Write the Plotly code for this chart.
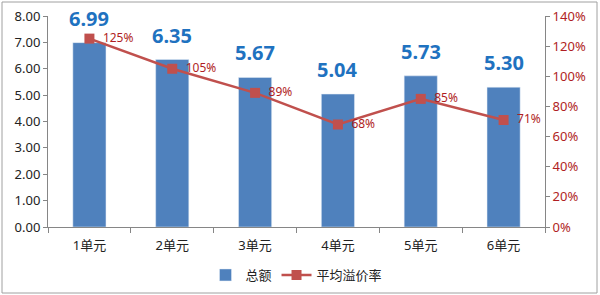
import plotly.graph_objects as go

categories = ["1单元", "2单元", "3单元", "4单元", "5单元", "6单元"]
totals = [6.99, 6.35, 5.67, 5.04, 5.73, 5.30]
premium = [125, 105, 89, 68, 85, 71]
left_ticks = [0, 1, 2, 3, 4, 5, 6, 7, 8]
right_ticks = [0, 20, 40, 60, 80, 100, 120, 140]

FONT = "Noto Sans, Noto Sans CJK SC, sans-serif"
BAR_COLOR = "#4F81BD"
LINE_COLOR = "#C0504D"
RED_TEXT = "#B01E23"
BLUE_TEXT = "#1F72C0"

fig = go.Figure()
fig.add_trace(go.Bar(
    x=categories, y=totals, name="总额", marker_color=BAR_COLOR,
    width=0.4, yaxis="y",
))
fig.add_trace(go.Scatter(
    x=categories, y=premium, name="平均溢价率", yaxis="y2",
    mode="lines+markers+text",
    line=dict(color=LINE_COLOR, width=2.5),
    marker=dict(symbol="square", size=10, color=LINE_COLOR),
    text=[f"  {v}%" for v in premium], textposition="middle right",
    textfont=dict(color=RED_TEXT, size=12, family=FONT),
    cliponaxis=False,
))

for c, v in zip(categories, totals):
    fig.add_annotation(
        x=c, y=v, xref="x", yref="y", text=f"<b>{v:.2f}</b>",
        showarrow=False, yanchor="bottom", yshift=9,
        font=dict(color=BLUE_TEXT, size=20, family=FONT),
    )

fig.update_layout(
    width=600, height=295,
    margin=dict(l=48, r=55, t=16, b=68, autoexpand=False),
    paper_bgcolor="white", plot_bgcolor="white",
    font=dict(family=FONT, size=12, color="#222222"),
    showlegend=True,
    legend=dict(orientation="h", x=0.5, xanchor="center", y=-48 / 211, yanchor="middle",
                font=dict(size=13, family=FONT), tracegroupgap=0),
    xaxis=dict(
        type="category", showline=True, linecolor="#868686", linewidth=1,
        ticks="outside", ticklen=5, tickcolor="#868686", tickson="boundaries",
        tickfont=dict(size=13, family=FONT, color="#222222"),
        ticklabelstandoff=6,
        showgrid=False, automargin=False,
    ),
    yaxis=dict(
        range=[0, 8], tickvals=left_ticks, tickformat=".2f",
        showline=True, linecolor="#868686", linewidth=1,
        ticks="outside", ticklen=4, tickcolor="#868686",
        showgrid=False, zeroline=False, automargin=False,
        tickfont=dict(size=13, family=FONT, color="#222222"),
    ),
    yaxis2=dict(
        range=[0, 140], tickvals=right_ticks, ticktext=[f"{v}%" for v in right_ticks],
        overlaying="y", side="right",
        showline=True, linecolor="#868686", linewidth=1,
        ticks="outside", ticklen=4, tickcolor="#868686",
        showgrid=False, zeroline=False, automargin=False,
        tickfont=dict(size=13, family=FONT, color=RED_TEXT),
    ),
    shapes=[dict(
        type="rect", xref="paper", yref="paper",
        x0=-46 / 497, x1=1 + 52 / 497, y0=-66 / 211, y1=1 + 14 / 211,
        line=dict(color="#A0A0A0", width=1), fillcolor="rgba(0,0,0,0)",
    )],
)

fig.write_html("out.html")
